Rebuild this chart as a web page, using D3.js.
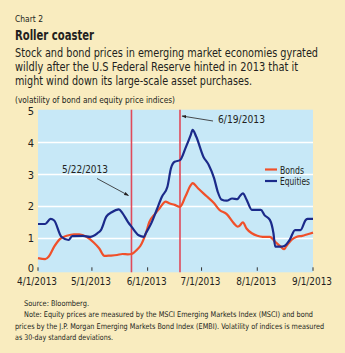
<!DOCTYPE html>
<html>
<head>
<meta charset="utf-8">
<script src="https://cdn.jsdelivr.net/npm/d3@7"></script>
<style>
  html, body { margin: 0; padding: 0; background: #f9ecbf; }
  svg { display: block; }
  text { font-family: "Liberation Sans Narrow", "DejaVu Sans Condensed", "Roboto", sans-serif; fill: #231f20; }
</style>
</head>
<body>
<svg width="345" height="353"></svg>
<script>
// volatility of bond and equity price indices
var equityDates = ["2013-04-01","2013-04-05","2013-04-08","2013-04-10","2013-04-14","2013-04-18","2013-04-20","2013-04-26","2013-04-30","2013-05-04","2013-05-06","2013-05-09","2013-05-12","2013-05-16","2013-05-18","2013-05-21","2013-05-23","2013-05-27","2013-05-30","2013-05-31","2013-06-03","2013-06-06","2013-06-09","2013-06-12","2013-06-14","2013-06-16","2013-06-19","2013-06-22","2013-06-25","2013-06-26","2013-06-28","2013-07-02","2013-07-05","2013-07-08","2013-07-10","2013-07-12","2013-07-15","2013-07-18","2013-07-21","2013-07-22","2013-07-24","2013-07-26","2013-07-29","2013-08-01","2013-08-03","2013-08-05","2013-08-08","2013-08-10","2013-08-11","2013-08-14","2013-08-16","2013-08-19","2013-08-22","2013-08-25","2013-08-28","2013-08-29","2013-09-01"];
var equityValues = [1.45,1.45,1.61,1.56,1.05,0.95,1.07,1.08,1.05,1.16,1.26,1.68,1.82,1.91,1.79,1.52,1.37,1.10,1.05,1.16,1.47,1.89,2.31,2.62,3.20,3.40,3.45,3.82,4.24,4.40,4.19,3.56,3.30,2.88,2.46,2.22,2.18,2.25,2.23,2.30,2.41,2.22,1.89,1.89,1.89,1.73,1.58,1.16,0.74,0.74,0.76,0.95,1.26,1.26,1.58,1.61,1.61];

var bondDates = ["2013-04-01","2013-04-05","2013-04-07","2013-04-10","2013-04-13","2013-04-17","2013-04-21","2013-04-24","2013-04-28","2013-05-02","2013-05-05","2013-05-08","2013-05-11","2013-05-15","2013-05-18","2013-05-21","2013-05-23","2013-05-26","2013-05-28","2013-05-31","2013-06-02","2013-06-05","2013-06-08","2013-06-11","2013-06-13","2013-06-16","2013-06-19","2013-06-22","2013-06-25","2013-06-26","2013-06-29","2013-07-04","2013-07-08","2013-07-11","2013-07-15","2013-07-19","2013-07-21","2013-07-22","2013-07-24","2013-07-26","2013-07-29","2013-08-01","2013-08-04","2013-08-08","2013-08-11","2013-08-14","2013-08-16","2013-08-17","2013-08-20","2013-08-23","2013-08-26","2013-08-29","2013-09-01"];
var bondValues = [0.38,0.35,0.43,0.74,0.97,1.08,1.13,1.13,1.05,0.87,0.69,0.45,0.46,0.48,0.51,0.50,0.51,0.64,0.77,1.16,1.52,1.76,1.97,2.15,2.10,2.05,1.99,2.31,2.67,2.73,2.57,2.31,2.10,1.89,1.76,1.47,1.37,1.39,1.50,1.31,1.16,1.08,1.05,1.05,0.89,0.74,0.66,0.74,0.95,1.05,1.08,1.13,1.18];

var xTickDates = ["2013-04-01","2013-05-01","2013-06-01","2013-07-01","2013-08-01","2013-09-01"];
var yTicks = [0, 1, 2, 3, 4, 5];
var eventDates = ["2013-05-23", "2013-06-19"];
var eventLabels = ["5/22/2013", "6/19/2013"];
var seriesNames = ["Bonds", "Equities"];

var parseDate = d3.timeParse("%Y-%m-%d");
var fmt = d3.timeFormat("%-m/%-d/%Y");

var svg = d3.select("svg");
var colors = {bonds: "#f0502a", equities: "#1b2a8a", event: "#e04a5a"};

function fitText(sel, w) {
    return sel.attr("textLength", w).attr("lengthAdjust", "spacingAndGlyphs");
}

// header texts
fitText(svg.append("text").attr("x", 15).attr("y", 22).attr("font-size", 9).text("Chart 2"), 28);
fitText(svg.append("text").attr("x", 15).attr("y", 40).attr("font-size", 13.5)
    .attr("font-weight", "bold").text("Roller coaster"), 79);
var sub = ["Stock and bond prices in emerging market economies gyrated",
           "wildly after the U.S Federal Reserve hinted in 2013 that it",
           "might wind down its large-scale asset purchases."];
var subW = [303, 283, 237];
sub.forEach(function(s, i) {
    fitText(svg.append("text").attr("x", 15).attr("y", 57 + i * 14).attr("font-size", 12).text(s), subW[i]);
});
fitText(svg.append("text").attr("x", 15).attr("y", 103).attr("font-size", 8.5)
    .text("(volatility of bond and equity price indices)"), 160);

var plotL = 38, plotR = 313, plotT = 110.7, plotB = 270.3;

var x = d3.scaleTime()
    .domain([parseDate("2013-04-01"), parseDate("2013-09-01")])
    .range([plotL, plotR]);
var y = d3.scaleLinear().domain([0, 5]).range([plotB, plotT]);

svg.append("rect").attr("x", plotL).attr("y", plotT - 1)
    .attr("width", plotR - plotL).attr("height", plotB - plotT + 3)
    .attr("fill", "#c7e8f7");

// white gridlines
svg.append("g").selectAll("line").data(yTicks.filter(function(d) { return d > 0 && d < 5; }))
    .enter().append("line")
    .attr("x1", plotL).attr("x2", plotR)
    .attr("y1", function(d) { return y(d); }).attr("y2", function(d) { return y(d); })
    .attr("stroke", "#fff").attr("stroke-width", 1.5);

// y labels
svg.append("g").selectAll("text").data(yTicks).enter().append("text")
    .attr("x", plotL - 4).attr("y", function(d) { return y(d) + (d === 0 ? 2 : 4); })
    .attr("text-anchor", "end").attr("font-size", 11).text(function(d) { return d; });

// x ticks and labels
var xt = xTickDates.map(parseDate);
svg.append("g").selectAll("line").data(xt).enter().append("line")
    .attr("x1", function(d) { return x(d); }).attr("x2", function(d) { return x(d); })
    .attr("y1", plotB - 3).attr("y2", plotB + 0.5)
    .attr("stroke", "#333").attr("stroke-width", 1);
svg.append("g").selectAll("text").data(xt).enter().append("text")
    .attr("x", function(d) { return x(d) - 21; }).attr("y", 285)
    .attr("font-size", 11).attr("textLength", 40).attr("lengthAdjust", "spacingAndGlyphs")
    .text(function(d) { return fmt(d); });

// event lines
var ev = eventDates.map(parseDate);
svg.append("g").selectAll("line").data(ev).enter().append("line")
    .attr("x1", function(d) { return x(d); }).attr("x2", function(d) { return x(d); })
    .attr("y1", plotT - 1).attr("y2", plotB + 2)
    .attr("stroke", colors.event).attr("stroke-width", 1.6);

var line = d3.line()
    .x(function(d) { return x(d.date); })
    .y(function(d) { return y(d.value); })
    .curve(d3.curveMonotoneX);

function series(dates, values) {
    return dates.map(function(d, i) { return {date: parseDate(d), value: values[i]}; });
}

svg.append("path").datum(series(bondDates, bondValues))
    .attr("fill", "none").attr("stroke", colors.bonds).attr("stroke-width", 2.2)
    .attr("stroke-linejoin", "round").attr("d", line);
svg.append("path").datum(series(equityDates, equityValues))
    .attr("fill", "none").attr("stroke", colors.equities).attr("stroke-width", 2.2)
    .attr("stroke-linejoin", "round").attr("d", line);

// arrows
svg.append("defs").append("marker").attr("id", "ah")
    .attr("viewBox", "0 0 10 10").attr("refX", 9).attr("refY", 5)
    .attr("markerWidth", 6).attr("markerHeight", 6).attr("orient", "auto")
    .append("path").attr("d", "M0,1.5L10,5L0,8.5z").attr("fill", "#231f20");

svg.append("line").attr("x1", 97).attr("y1", 178.5)
    .attr("x2", x(ev[0]) - 3).attr("y2", 195.5)
    .attr("stroke", "#231f20").attr("stroke-width", 0.8).attr("marker-end", "url(#ah)");
fitText(svg.append("text").attr("x", 62).attr("y", 173)
    .attr("font-size", 11).text(eventLabels[0]), 46);

svg.append("line").attr("x1", 213).attr("y1", 121)
    .attr("x2", x(ev[1]) + 2).attr("y2", 116)
    .attr("stroke", "#231f20").attr("stroke-width", 0.8).attr("marker-end", "url(#ah)");
fitText(svg.append("text").attr("x", 218).attr("y", 123)
    .attr("font-size", 11).text(eventLabels[1]), 47);

// legend
var lg = svg.append("g");
var legW = [24, 30];
[colors.bonds, colors.equities].forEach(function(c, i) {
    lg.append("line").attr("x1", 265).attr("x2", 277)
        .attr("y1", 169.5 + i * 11.5).attr("y2", 169.5 + i * 11.5)
        .attr("stroke", c).attr("stroke-width", 2.2);
    fitText(lg.append("text").attr("x", 280).attr("y", 173.5 + i * 11.5)
        .attr("font-size", 10.5).text(seriesNames[i]), legW[i]);
});

// footer
var notes = [
    {x: 24, y: 306, t: "Source: Bloomberg.", w: 65},
    {x: 24, y: 317, t: "Note: Equity prices are measured by the MSCI Emerging Markets Index (MSCI) and bond", w: 289},
    {x: 15, y: 328.5, t: "prices by the J.P. Morgan Emerging Markets Bond Index (EMBI). Volatility of indices is measured", w: 309},
    {x: 15, y: 339.5, t: "as 30-day standard deviations.", w: 98}
];
notes.forEach(function(n) {
    fitText(svg.append("text").attr("x", n.x).attr("y", n.y).attr("font-size", 7.8).text(n.t), n.w);
});
</script>
</body>
</html>
